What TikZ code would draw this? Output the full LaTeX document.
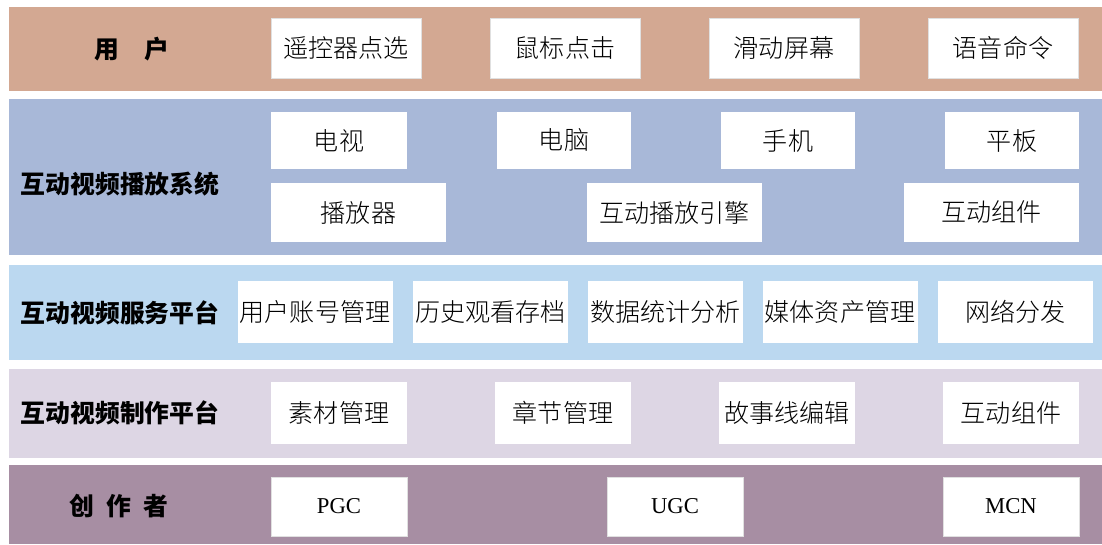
\documentclass[tikz,border=0pt]{standalone}
\usepackage{fontspec}
\setmainfont{Noto Sans CJK SC}
\newfontfamily\boxfont{Noto Sans CJK SC}[UprightFont=* Light]
\newfontfamily\latinfont{Liberation Serif}
\usetikzlibrary{positioning}

\definecolor{userBand}{RGB}{211,168,146}
\definecolor{playBand}{RGB}{168,184,216}
\definecolor{serviceBand}{RGB}{187,216,240}
\definecolor{makeBand}{RGB}{221,214,228}
\definecolor{creatorBand}{RGB}{167,142,163}

\begin{document}
\begin{tikzpicture}[x=0.75pt,y=-0.75pt,inner sep=0pt]
	\tikzstyle{band}=[rectangle,minimum width=819.75pt]
	\tikzstyle{head}=[font=\fontsize{18.6}{20}\selectfont\bfseries]
	\tikzstyle{item}=[rectangle,fill=white,font=\fontsize{18.8}{20}\selectfont\boxfont]
	\tikzstyle{framedItem}=[item,draw=black!12,line width=0.7pt]
	\tikzstyle{latinItem}=[framedItem,font=\fontsize{17}{20}\selectfont\latinfont]

	\useasboundingbox (0,0) rectangle (1102,544);

	%user
	\node[band,fill=userBand,minimum height=63pt] (userBand) at (555.5,49) {};
	\node[head] (userHead) at (132,49) {用\quad 户};
	\node[framedItem,minimum width=112.5pt,minimum height=45pt] (remote) at (346,48) {遥控器点选};
	\node[framedItem,minimum width=112.5pt,minimum height=45pt] (mouse) at (565,48) {鼠标点击};
	\node[framedItem,minimum width=112.5pt,minimum height=45pt] (swipe) at (784,48) {滑动屏幕};
	\node[framedItem,minimum width=112.5pt,minimum height=45pt] (voice) at (1003,48) {语音命令};

	%play system
	\node[band,fill=playBand,minimum height=117pt] (playBand) at (555.5,177) {};
	\node[head] (playHead) at (120,184) {互动视频播放系统};
	\node[item,minimum width=102pt,minimum height=42.75pt] (tv) at (339,140.5) {电视};
	\node[item,minimum width=100.5pt,minimum height=42.75pt] (pc) at (564,140.5) {电脑};
	\node[item,minimum width=100.5pt,minimum height=42.75pt] (phone) at (788,140.5) {手机};
	\node[item,minimum width=100.5pt,minimum height=42.75pt] (pad) at (1012,140.5) {平板};
	\node[item,minimum width=131.25pt,minimum height=44.25pt] (player) at (358.5,212.5) {播放器};
	\node[item,minimum width=131.25pt,minimum height=44.25pt] (engine) at (674.5,212.5) {互动播放引擎};
	\node[item,minimum width=131.25pt,minimum height=44.25pt] (playWidget) at (991.5,212.5) {互动组件};

	%service platform
	\node[band,fill=serviceBand,minimum height=71.25pt] (serviceBand) at (555.5,312.5) {};
	\node[head] (serviceHead) at (120,313) {互动视频服务平台};
	\node[item,minimum width=116.25pt,minimum height=46.5pt] (account) at (315,312) {用户账号管理};
	\node[item,minimum width=116.25pt,minimum height=46.5pt] (history) at (490.5,312) {历史观看存档};
	\node[item,minimum width=116.25pt,minimum height=46.5pt] (stats) at (665.5,312) {数据统计分析};
	\node[item,minimum width=116.25pt,minimum height=46.5pt] (assets) at (840,312) {媒体资产管理};
	\node[item,minimum width=116.25pt,minimum height=46.5pt] (cdn) at (1015.5,312) {网络分发};

	%making platform
	\node[band,fill=makeBand,minimum height=66.75pt] (makeBand) at (555.5,413.5) {};
	\node[head] (makeHead) at (120,413) {互动视频制作平台};
	\node[item,minimum width=102pt,minimum height=46.5pt] (material) at (339,413) {素材管理};
	\node[item,minimum width=102pt,minimum height=46.5pt] (chapter) at (563,413) {章节管理};
	\node[item,minimum width=102pt,minimum height=46.5pt] (story) at (787,413) {故事线编辑};
	\node[item,minimum width=102pt,minimum height=46.5pt] (makeWidget) at (1011,413) {互动组件};

	%creators
	\node[band,fill=creatorBand,minimum height=59.25pt] (creatorBand) at (555.5,504.5) {};
	\node[head] (creatorHead) at (119,506) {创\enspace 作\enspace 者};
	\node[latinItem,minimum width=102pt,minimum height=44.25pt] (pgc) at (339,506.5) {PGC};
	\node[latinItem,minimum width=102pt,minimum height=44.25pt] (ugc) at (675,506.5) {UGC};
	\node[latinItem,minimum width=102pt,minimum height=44.25pt] (mcn) at (1011,506.5) {MCN};
\end{tikzpicture}
\end{document}
